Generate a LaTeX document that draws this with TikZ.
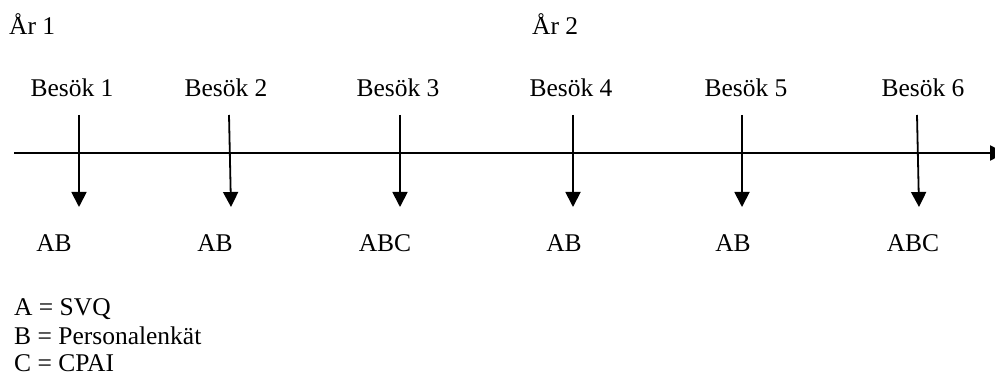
\documentclass[tikz,border=0pt]{standalone}
\usepackage{fontspec}
\setmainfont{Liberation Serif}
\usetikzlibrary{arrows.meta}
\begin{document}
\begin{tikzpicture}[x=1pt,y=-1pt,
  lbl/.style={inner sep=0pt,anchor=base,font=\fontsize{25.5}{30}\selectfont},
  axis/.style={line width=2.5pt,-{Triangle[width=15pt,length=15pt]}},
  visit/.style={line width=1.8pt,-{Triangle[width=15pt,length=15pt]}}]
\useasboundingbox (0,0) rectangle (995,374);
% year labels
\node[lbl,anchor=base west] (y1) at (9,35) {År 1};
\node[lbl,anchor=base west] (y2) at (532,35) {År 2};
% time axis (its arrowhead runs past the right edge)
\coordinate (a0) at (14,153);
\coordinate (a1) at (1005,153);
\draw[axis] (a0) -- (a1);
% visits: heading column, arrow top, arrow tip, label column
\foreach \i/\xv/\xt/\xb/\xl/\txt in {1/72/79/79/54/AB, 2/226/229/231/215/AB, 3/398/400/400/385/ABC,
                                     4/571/573/573/564/AB, 5/746/742/742/733/AB, 6/923/917/919/913/ABC}{
  \node[lbl] (v\i) at (\xv,97) {Besök \i};
  \coordinate (t\i) at (\xt,115);
  \coordinate (b\i) at (\xb,207);
  \draw[visit] (t\i) -- (b\i);
  \node[lbl] (m\i) at (\xl,251) {\txt};
}
% legend
\node[lbl,anchor=base west] (l1) at (14,315) {A = SVQ};
\node[lbl,anchor=base west] (l2) at (14,344) {B = Personalenkät};
\node[lbl,anchor=base west] (l3) at (14,371) {C = CPAI};
\end{tikzpicture}
\end{document}
